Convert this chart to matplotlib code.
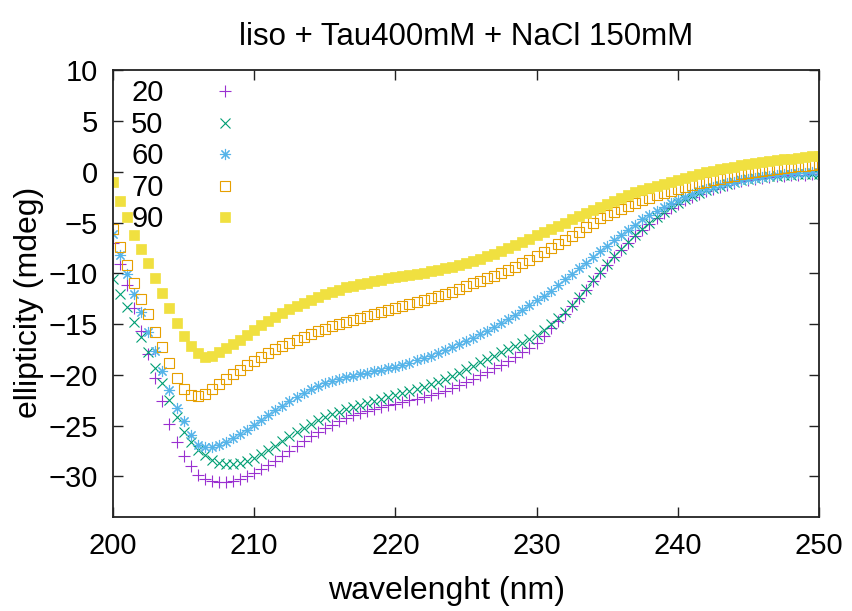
import numpy as np
import matplotlib
matplotlib.use("Agg")
import matplotlib.pyplot as plt

plt.rcParams['font.family'] = ['Liberation Sans', 'DejaVu Sans']

# wavelength grid (nm), 0.5 nm step
wavelength = np.arange(200.0, 250.01, 0.5)

# ellipticity (mdeg) per temperature
ell_20 = [
    -7.0, -9.1, -11.2, -13.4, -15.7, -18.0, -20.3, -22.6, -24.8, -26.6,
    -28.0, -29.0, -29.9, -30.3, -30.5, -30.6, -30.6, -30.5, -30.3, -30.0,
    -29.7, -29.3, -28.9, -28.5, -28.0, -27.5, -27.0, -26.5, -26.0, -25.6,
    -25.2, -24.9, -24.6, -24.3, -24.0, -23.8, -23.6, -23.4, -23.2, -23.0,
    -22.9, -22.7, -22.5, -22.4, -22.2, -22.0, -21.8, -21.6, -21.3, -21.0,
    -20.7, -20.4, -20.0, -19.7, -19.3, -19.0, -18.6, -18.2, -17.8, -17.4,
    -16.9, -16.2, -15.4, -14.7, -14.0, -13.2, -12.4, -11.6, -10.8, -10.0,
    -9.2, -8.4, -7.7, -7.0, -6.3, -5.7, -5.1, -4.6, -4.1, -3.6,
    -3.2, -2.8, -2.5, -2.2, -1.9, -1.7, -1.5, -1.3, -1.1, -0.95,
    -0.8, -0.7, -0.6, -0.5, -0.45, -0.4, -0.35, -0.3, -0.3, -0.25,
    -0.25,
]
ell_50 = [
    -10.6, -12.0, -13.3, -14.8, -16.3, -17.8, -19.3, -20.8, -22.5, -24.2,
    -25.6, -26.6, -27.4, -27.9, -28.4, -28.7, -28.8, -28.8, -28.7, -28.5,
    -28.2, -27.8, -27.4, -27.0, -26.5, -26.0, -25.6, -25.2, -24.8, -24.5,
    -24.2, -23.9, -23.7, -23.4, -23.2, -23.0, -22.8, -22.6, -22.4, -22.2,
    -22.0, -21.8, -21.6, -21.4, -21.2, -20.9, -20.7, -20.4, -20.1, -19.8,
    -19.4, -19.1, -18.7, -18.4, -18.1, -17.8, -17.5, -17.2, -16.9, -16.5,
    -16.1, -15.6, -15.0, -14.4, -13.8, -13.1, -12.3, -11.5, -10.7, -9.9,
    -9.1, -8.3, -7.6, -6.9, -6.2, -5.6, -5.0, -4.5, -4.0, -3.5,
    -3.1, -2.7, -2.4, -2.1, -1.8, -1.6, -1.4, -1.2, -1.0, -0.85,
    -0.7, -0.6, -0.5, -0.45, -0.4, -0.35, -0.3, -0.25, -0.2, -0.2,
    -0.2,
]
ell_60 = [
    -6.1, -8.2, -10.1, -12.0, -13.8, -15.8, -17.7, -19.6, -21.5, -23.3,
    -24.6, -25.9, -26.9, -27.1, -27.1, -26.9, -26.6, -26.2, -25.8, -25.4,
    -24.9, -24.5, -24.0, -23.5, -23.1, -22.6, -22.2, -21.8, -21.4, -21.1,
    -20.8, -20.6, -20.4, -20.2, -20.1, -19.9, -19.8, -19.6, -19.5, -19.3,
    -19.2, -19.0, -18.8, -18.5, -18.3, -18.1, -17.9, -17.6, -17.3, -17.0,
    -16.7, -16.4, -16.0, -15.7, -15.3, -14.9, -14.5, -14.1, -13.6, -13.1,
    -12.6, -12.2, -11.7, -11.2, -10.6, -10.1, -9.5, -9.0, -8.4, -7.8,
    -7.3, -6.7, -6.2, -5.7, -5.2, -4.7, -4.3, -3.9, -3.5, -3.1,
    -2.8, -2.5, -2.2, -1.9, -1.7, -1.5, -1.3, -1.1, -1.0, -0.85,
    -0.7, -0.6, -0.5, -0.4, -0.3, -0.25, -0.2, -0.15, -0.1, -0.05,
    0.0,
]
ell_70 = [
    -5.6, -7.4, -9.2, -11.0, -12.5, -14.0, -15.8, -17.3, -18.8, -20.3,
    -21.4, -22.0, -22.1, -21.9, -21.4, -20.9, -20.4, -19.9, -19.5, -19.0,
    -18.6, -18.2, -17.9, -17.5, -17.2, -16.9, -16.6, -16.3, -16.0, -15.7,
    -15.5, -15.2, -15.0, -14.8, -14.6, -14.4, -14.2, -14.0, -13.8, -13.6,
    -13.4, -13.2, -13.0, -12.8, -12.6, -12.4, -12.2, -12.0, -11.8, -11.5,
    -11.3, -11.0, -10.8, -10.5, -10.3, -10.0, -9.7, -9.4, -9.0, -8.7,
    -8.3, -7.9, -7.5, -7.1, -6.7, -6.3, -5.9, -5.4, -5.0, -4.6,
    -4.3, -4.0, -3.7, -3.4, -3.1, -2.8, -2.6, -2.3, -2.1, -1.9,
    -1.7, -1.5, -1.3, -1.1, -1.0, -0.8, -0.7, -0.5, -0.4, -0.25,
    -0.1, 0.0, 0.1, 0.2, 0.3, 0.4, 0.5, 0.55, 0.6, 0.7,
    0.75,
]
ell_90 = [
    -1.0, -2.9, -4.5, -6.2, -7.6, -9.0, -10.5, -11.9, -13.4, -14.9,
    -16.2, -17.2, -17.9, -18.2, -18.1, -17.8, -17.4, -17.0, -16.6, -16.1,
    -15.6, -15.1, -14.7, -14.3, -13.9, -13.5, -13.2, -12.9, -12.6, -12.3,
    -12.0, -11.8, -11.6, -11.4, -11.3, -11.1, -11.0, -10.8, -10.7, -10.5,
    -10.4, -10.3, -10.2, -10.1, -10.0, -9.8, -9.7, -9.5, -9.4, -9.2,
    -9.0, -8.8, -8.6, -8.3, -8.1, -7.8, -7.5, -7.2, -6.9, -6.6,
    -6.2, -5.9, -5.6, -5.3, -5.0, -4.7, -4.4, -4.1, -3.8, -3.5,
    -3.2, -2.9, -2.6, -2.3, -2.0, -1.8, -1.6, -1.4, -1.2, -1.0,
    -0.8, -0.6, -0.4, -0.2, 0.0, 0.1, 0.3, 0.4, 0.5, 0.7,
    0.8, 0.9, 1.0, 1.1, 1.2, 1.25, 1.3, 1.4, 1.5, 1.55,
    1.6,
]

labels = ["20", "50", "60", "70", "90"]
series = [ell_20, ell_50, ell_60, ell_70, ell_90]
colors = ["#9a30d0", "#009e73", "#56b4e9", "#e69f00", "#f0e040"]
styles = [
    dict(marker="+", ms=8, mew=0.8),
    dict(marker="x", ms=7, mew=0.8),
    dict(marker=(8, 2, 0), ms=8, mew=0.8),
    dict(marker="s", ms=6.5, mew=0.8, mfc="none"),
    dict(marker="s", ms=6.5, mew=0.5),
]

fig = plt.figure(figsize=(8.53, 6.11), dpi=100)
ax = fig.add_axes([0.1325, 0.154, 0.8275, 0.731])

for lab, vals, col, st in zip(labels, series, colors, styles):
    ax.plot(wavelength, vals, linestyle="none", color=col, label=lab, **st)

ax.set_xlim(200, 250)
ax.set_ylim(-34, 10)
ax.set_xticks([200, 210, 220, 230, 240, 250])
ax.set_yticks([10, 5, 0, -5, -10, -15, -20, -25, -30])
ax.tick_params(direction="in", length=7, width=1, labelsize=21,
               top=True, right=True, pad=11, colors="#222222",
               labelcolor="black")
for sp in ax.spines.values():
    sp.set_linewidth(1.3)
    sp.set_color("#222222")

ax.set_xlabel("wavelenght (nm)", fontsize=23)
ax.set_ylabel("ellipticity (mdeg)", fontsize=23)
ax.xaxis.set_label_coords(0.473, -0.132)
ax.yaxis.set_label_coords(-0.098, 0.48)
ax.set_title("liso + Tau400mM + NaCl 150mM", fontsize=22.5, pad=18)

leg = ax.legend(loc="upper left", bbox_to_anchor=(0.007, 1.009), frameon=False,
                markerfirst=False, fontsize=21, handlelength=2.0,
                handletextpad=1.1, labelspacing=0.12, borderpad=0.15,
                borderaxespad=0.3)

fig.savefig("out.png", dpi=100)
